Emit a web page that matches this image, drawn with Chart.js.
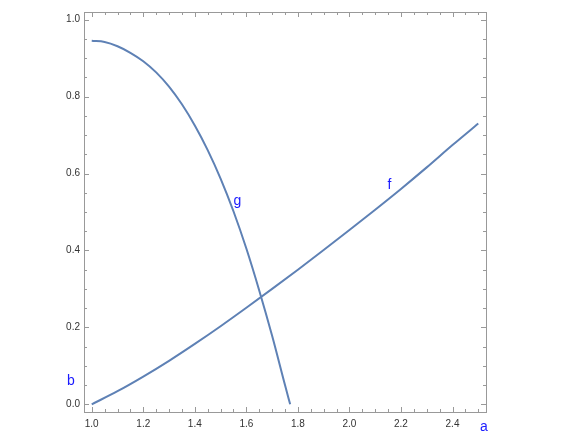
<!DOCTYPE html>
<html>
<head>
<meta charset="utf-8">
<script src="https://cdn.jsdelivr.net/npm/chart.js@4"></script>
<style>
  html, body { margin: 0; padding: 0; background: #fff; }
  #wrap { width: 564px; height: 436px; }
</style>
</head>
<body>
<div id="wrap"><canvas id="plot" width="564" height="436"></canvas></div>
<script>
// values
const fX = [1.0, 1.1, 1.2, 1.3, 1.4, 1.5, 1.6, 1.7, 1.8, 1.9, 2.0, 2.1, 2.2, 2.3, 2.4, 2.5];
const fY = [0.0, 0.034, 0.072, 0.113, 0.157, 0.203, 0.251, 0.300, 0.350, 0.401, 0.453, 0.506, 0.560, 0.616, 0.674, 0.730];

const gX = [1.0, 1.05, 1.1, 1.15, 1.2, 1.25, 1.3, 1.35, 1.4, 1.45, 1.5, 1.55, 1.6, 1.65, 1.7, 1.75, 1.77];
const gY = [0.945, 0.942, 0.931, 0.914, 0.892, 0.863, 0.826, 0.780, 0.725, 0.661, 0.587, 0.502, 0.405, 0.296, 0.178, 0.050, 0.0];

const xTicks = [1.0, 1.2, 1.4, 1.6, 1.8, 2.0, 2.2, 2.4];
const yTicks = [0.0, 0.2, 0.4, 0.6, 0.8, 1.0];

const curveLabels = [
  { text: 'f', x: 2.155, y: 0.571 },
  { text: 'g', x: 1.565, y: 0.527 }
];

const lineColor = '#5E81B5';
const frameColor = '#999999';

const toPts = (xs, ys) => xs.map((x, i) => ({ x: x, y: ys[i] }));

// frame, inward ticks on all four sides, and the text labels
const framePlugin = {
  id: 'frame',
  afterDatasetsDraw(chart) {
    const ctx = chart.ctx;
    const a = chart.chartArea;
    const xs = chart.scales.x, ys = chart.scales.y;
    ctx.save();
    ctx.strokeStyle = frameColor;
    ctx.lineWidth = 1;
    ctx.strokeRect(Math.round(a.left) + 0.5, Math.round(a.top) + 0.5,
      Math.round(a.right - a.left), Math.round(a.bottom - a.top));

    ctx.beginPath();
    for (let i = 0; i <= 40; i++) {
      const v = 0.95 + i * 0.05;
      if (v < xs.min || v > xs.max) continue;
      const major = Math.abs((v * 5) - Math.round(v * 5)) < 1e-6;
      const len = major ? 5 : 3;
      const px = Math.round(xs.getPixelForValue(v)) + 0.5;
      ctx.moveTo(px, a.bottom); ctx.lineTo(px, a.bottom - len);
      ctx.moveTo(px, a.top); ctx.lineTo(px, a.top + len);
    }
    for (let i = 0; i <= 24; i++) {
      const v = -0.05 + i * 0.05;
      if (v < ys.min || v > ys.max) continue;
      const major = Math.abs((v * 5) - Math.round(v * 5)) < 1e-6;
      const len = major ? 5 : 3;
      const py = Math.round(ys.getPixelForValue(v)) + 0.5;
      ctx.moveTo(a.left, py); ctx.lineTo(a.left + len, py);
      ctx.moveTo(a.right, py); ctx.lineTo(a.right - len, py);
    }
    ctx.stroke();

    ctx.fillStyle = '#1a1aff';
    ctx.font = '14px "Liberation Sans", Arial, sans-serif';
    ctx.textAlign = 'center';
    ctx.textBaseline = 'middle';
    curveLabels.forEach(l => {
      ctx.fillText(l.text, xs.getPixelForValue(l.x), ys.getPixelForValue(l.y));
    });
    ctx.fillText('a', a.right - 2, a.bottom + 15);
    ctx.fillText('b', a.left - 13, a.bottom - 31);
    ctx.restore();
  }
};

new Chart(document.getElementById('plot'), {
  type: 'scatter',
  data: {
    datasets: [
      {
        label: 'f',
        data: toPts(fX, fY),
        showLine: true,
        borderColor: lineColor,
        borderWidth: 2,
        pointRadius: 0,
        cubicInterpolationMode: 'monotone'
      },
      {
        label: 'g',
        data: toPts(gX, gY),
        showLine: true,
        borderColor: lineColor,
        borderWidth: 2,
        pointRadius: 0,
        cubicInterpolationMode: 'monotone'
      }
    ]
  },
  options: {
    responsive: false,
    animation: false,
    layout: { padding: { left: 0, top: 12, right: 78, bottom: 0 } },
    plugins: {
      legend: { display: false },
      tooltip: { enabled: false }
    },
    scales: {
      x: {
        type: 'linear',
        min: 0.97,
        max: 2.53,
        afterBuildTicks: s => { s.ticks = xTicks.map(v => ({ value: v })); },
        afterFit: s => { s.height = 24; },
        grid: { display: false, drawTicks: false },
        border: { display: false },
        ticks: {
          padding: 6,
          maxRotation: 0,
          autoSkip: false,
          color: '#333',
          font: { family: '"Liberation Sans", Arial, sans-serif', size: 10 },
          callback: v => v.toFixed(1)
        }
      },
      y: {
        type: 'linear',
        min: -0.02,
        max: 1.02,
        afterBuildTicks: s => { s.ticks = yTicks.map(v => ({ value: v })); },
        afterFit: s => { s.width = 84; },
        grid: { display: false, drawTicks: false },
        border: { display: false },
        ticks: {
          padding: 4,
          autoSkip: false,
          color: '#333',
          font: { family: '"Liberation Sans", Arial, sans-serif', size: 10 },
          callback: v => v.toFixed(1)
        }
      }
    }
  },
  plugins: [framePlugin]
});
</script>
</body>
</html>
